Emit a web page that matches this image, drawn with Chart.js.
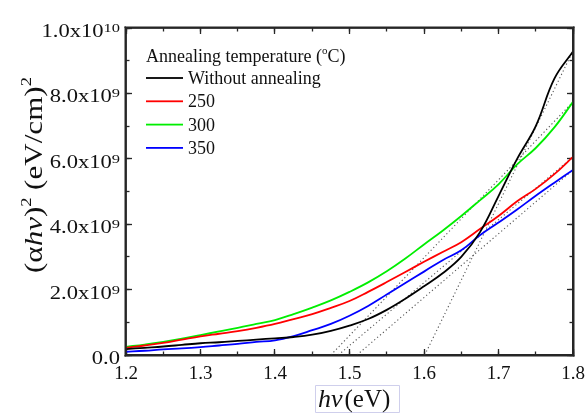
<!DOCTYPE html>
<html>
<head>
<meta charset="utf-8">
<script src="https://cdn.jsdelivr.net/npm/chart.js@4/dist/chart.umd.min.js"></script>
<style>
  html, body { margin: 0; padding: 0; background: #fff; }
  #wrap { position: relative; width: 587px; height: 414px; }
</style>
</head>
<body>
<div id="wrap"><canvas id="chart"></canvas></div>
<script>
// Tauc plot: (alpha h nu)^2 versus photon energy for films annealed at different temperatures.
const UNIT = 1e9; // values below are in units of 10^9 (eV/cm)^2

const energies = [1.200, 1.225, 1.250, 1.275, 1.300, 1.325, 1.350, 1.375, 1.400, 1.425, 1.450, 1.475, 1.500,
                  1.525, 1.550, 1.575, 1.600, 1.625, 1.650, 1.675, 1.700, 1.725, 1.750, 1.775, 1.800];

const withoutAnnealing = [0.18, 0.22, 0.26, 0.31, 0.36, 0.39, 0.43, 0.47, 0.51, 0.55, 0.62, 0.74, 0.90,
                          1.10, 1.38, 1.72, 2.10, 2.50, 3.00, 3.75, 4.86, 6.00, 7.00, 8.45, 9.28];
const annealed250 = [0.22, 0.29, 0.37, 0.47, 0.57, 0.65, 0.73, 0.83, 0.95, 1.10, 1.25, 1.44, 1.65,
                     1.93, 2.23, 2.54, 2.85, 3.15, 3.45, 3.85, 4.25, 4.70, 5.08, 5.53, 6.06];
const annealed300 = [0.25, 0.32, 0.40, 0.50, 0.61, 0.72, 0.83, 0.95, 1.07, 1.25, 1.45, 1.67, 1.93,
                     2.22, 2.56, 2.95, 3.38, 3.80, 4.25, 4.73, 5.22, 5.83, 6.33, 6.96, 7.74];
const annealed350 = [0.10, 0.13, 0.17, 0.20, 0.24, 0.29, 0.34, 0.40, 0.45, 0.58, 0.76, 0.95, 1.20,
                     1.50, 1.85, 2.20, 2.55, 2.90, 3.20, 3.66, 4.05, 4.45, 4.87, 5.27, 5.66];

const seriesLabels = ['Without annealing', '250', '300', '350'];
const seriesColors = ['#000000', '#ff0000', '#00ee00', '#0000ff'];

// Linear extrapolations of the absorption edge down to the energy axis
const fitIntercepts = [1.601, 1.485, 1.475, 1.510];
const fitTopValues = [9.30, 6.06, 7.74, 5.66];
const fitTopEnergy = 1.8;

const xRange = [1.2, 1.8];
const yRange = [0, 10];
const xTicks = [1.2, 1.3, 1.4, 1.5, 1.6, 1.7, 1.8];
const xTickLabels = ['1.2', '1.3', '1.4', '1.5', '1.6', '1.7', '1.8'];
const yTicks = [0, 2, 4, 6, 8, 10];
const yTickMantissas = ['0.0', '2.0x10', '4.0x10', '6.0x10', '8.0x10', '1.0x10'];
const yTickExponents = ['', '9', '9', '9', '9', '10'];

const legendTitle = 'Annealing temperature (';
const legendTitleSup = 'o';
const legendTitleEnd = 'C)';

const SERIF = "'Liberation Serif', 'Times New Roman', serif";
const AXIS_COLOR = '#262626';

const seriesValues = [withoutAnnealing, annealed250, annealed300, annealed350];

const datasets = [];
seriesValues.forEach((vals, i) => {
  datasets.push({
    label: seriesLabels[i],
    data: energies.map((e, k) => ({ x: e, y: vals[k] * UNIT })),
    borderColor: seriesColors[i],
    borderWidth: 1.8,
    pointRadius: 0,
    tension: 0.4,
    fill: false,
    order: 1
  });
});
fitIntercepts.forEach((e0, i) => {
  datasets.push({
    label: 'fit ' + seriesLabels[i],
    data: [{ x: e0, y: 0 }, { x: fitTopEnergy, y: fitTopValues[i] * UNIT }],
    borderColor: '#555555',
    borderWidth: 1.1,
    borderDash: [1.2, 2.6],
    pointRadius: 0,
    fill: false,
    isFit: true,
    order: 2
  });
});
// plot frame, traced around the full axis ranges
datasets.push({
  label: 'frame',
  data: [
    { x: xRange[0], y: yRange[0] * UNIT }, { x: xRange[1], y: yRange[0] * UNIT },
    { x: xRange[1], y: yRange[1] * UNIT }, { x: xRange[0], y: yRange[1] * UNIT },
    { x: xRange[0], y: yRange[0] * UNIT }
  ],
  borderColor: AXIS_COLOR,
  borderWidth: 1.6,
  borderJoinStyle: 'miter',
  pointRadius: 0,
  tension: 0,
  fill: false,
  clip: false,
  isFit: true,
  order: 0
});

// An axis that contributes an optional frame edge and inward tick marks (length < 0 points inside).
function tickAxis(position, min, max, step, tickLength, withBorder) {
  return {
    type: 'linear',
    position,
    min, max,
    ticks: { display: false, stepSize: step },
    grid: {
      drawOnChartArea: false,
      drawTicks: true,
      tickLength,
      color: AXIS_COLOR,
      tickColor: AXIS_COLOR,
      tickWidth: 1.3
    },
    border: { display: withBorder, color: AXIS_COLOR, width: 1.6 },
    afterFit(scale) {
      if (scale.isHorizontal()) scale.height = 0; else scale.width = 0;
    }
  };
}

// draws a sequence of text runs along a baseline; returns the total advance
function drawRuns(ctx, runs, x, y) {
  let cx = x;
  runs.forEach(r => {
    ctx.font = r.font;
    ctx.fillText(r.text, cx, y - (r.rise || 0));
    cx += ctx.measureText(r.text).width + (r.gap || 0);
  });
  return cx - x;
}
function runsWidth(ctx, runs) {
  let w = 0;
  runs.forEach(r => { ctx.font = r.font; w += ctx.measureText(r.text).width + (r.gap || 0); });
  return w;
}

const labelsAndLegend = {
  id: 'labelsAndLegend',
  afterDraw(chart) {
    const ctx = chart.ctx;
    const xs = chart.scales.x, ys = chart.scales.y;
    const L = xs.getPixelForValue(xRange[0]);
    const R = xs.getPixelForValue(xRange[1]);
    const T = ys.getPixelForValue(yRange[1] * UNIT);
    const B = ys.getPixelForValue(yRange[0] * UNIT);
    ctx.save();

    // outer edge of the frame, just outside the plotting area
    ctx.fillStyle = AXIS_COLOR;
    const fw = 1.5;
    ctx.fillRect(L - fw, T - fw, R - L + 2 * fw, fw);
    ctx.fillRect(L - fw, B, R - L + 2 * fw, fw);
    ctx.fillRect(L - fw, T - fw, fw, B - T + 2 * fw);
    ctx.fillRect(R, T - fw, fw, B - T + 2 * fw);

    ctx.fillStyle = '#111';
    ctx.textBaseline = 'alphabetic';

    // x tick labels
    ctx.font = '19px ' + SERIF;
    ctx.textAlign = 'center';
    xTicks.forEach((t, i) => {
      ctx.fillText(xTickLabels[i], xs.getPixelForValue(t), B + 24);
    });

    // y tick labels: mantissa with a raised exponent, right aligned
    ctx.textAlign = 'left';
    const sx = 1.22;
    yTicks.forEach((t, i) => {
      const py = ys.getPixelForValue(t * UNIT);
      const runs = [{ text: yTickMantissas[i], font: '18.5px ' + SERIF }];
      if (yTickExponents[i]) runs.push({ text: yTickExponents[i], font: '13.5px ' + SERIF, rise: 5 });
      const w = runsWidth(ctx, runs) * sx;
      ctx.save();
      ctx.translate(L - 6 - w, py + 9);
      ctx.scale(sx, 1);
      drawRuns(ctx, runs, 0, 0);
      ctx.restore();
    });

    // y axis title, rotated
    const yTitle = [
      { text: '(\u03b1', font: '25px ' + SERIF },
      { text: 'h\u03bd', font: 'italic 25px ' + SERIF },
      { text: ')', font: '25px ' + SERIF },
      { text: '2', font: '15px ' + SERIF, rise: 11, gap: 6 },
      { text: '(eV/cm)', font: '25px ' + SERIF },
      { text: '2', font: '15px ' + SERIF, rise: 11 }
    ];
    const yTitleW = runsWidth(ctx, yTitle);
    ctx.save();
    ctx.translate(42, 273);
    ctx.rotate(-Math.PI / 2);
    ctx.scale(196 / yTitleW, 1);
    drawRuns(ctx, yTitle, 0, 0);
    ctx.restore();

    // x axis title with its thin box
    ctx.strokeStyle = '#cfcfec';
    ctx.lineWidth = 1;
    ctx.beginPath();
    ctx.rect(315.5, 385.5, 84, 27);
    ctx.stroke();
    drawRuns(ctx, [
      { text: 'h\u03bd', font: 'italic 26px ' + SERIF, gap: 2 },
      { text: '(eV)', font: '25px ' + SERIF }
    ], 318, 407);

    // legend
    drawRuns(ctx, [
      { text: legendTitle, font: '18px ' + SERIF },
      { text: legendTitleSup, font: '11px ' + SERIF, rise: 8 },
      { text: legendTitleEnd, font: '18px ' + SERIF }
    ], 146, 62);
    const rowH = 23.3;
    chart.data.datasets.filter(d => !d.isFit).forEach((d, i) => {
      const ly = 78 + i * rowH;
      ctx.fillStyle = d.borderColor;
      ctx.fillRect(146, ly - 0.9, 37, 1.8);
      ctx.font = '18px ' + SERIF;
      ctx.fillStyle = '#111';
      ctx.fillText(d.label, 188, ly + 6);
    });

    ctx.restore();
  }
};

new Chart(document.getElementById('chart'), {
  type: 'line',
  data: { datasets },
  options: {
    responsive: true,
    maintainAspectRatio: false,
    animation: false,
    layout: { padding: { left: 126, right: 14, top: 28, bottom: 59 } },
    plugins: { legend: { display: false }, tooltip: { enabled: false } },
    scales: {
      x: tickAxis('bottom', xRange[0], xRange[1], 0.1, -6, true),
      xMinor: tickAxis('bottom', xRange[0], xRange[1], 0.05, -3.5, false),
      xTop: tickAxis('top', xRange[0], xRange[1], 0.1, -6, true),
      xTopMinor: tickAxis('top', xRange[0], xRange[1], 0.05, -3.5, false),
      y: tickAxis('left', yRange[0] * UNIT, yRange[1] * UNIT, 2 * UNIT, -6, true),
      yMinor: tickAxis('left', yRange[0] * UNIT, yRange[1] * UNIT, 1 * UNIT, -3.5, false),
      yRight: tickAxis('right', yRange[0] * UNIT, yRange[1] * UNIT, 2 * UNIT, -6, true),
      yRightMinor: tickAxis('right', yRange[0] * UNIT, yRange[1] * UNIT, 1 * UNIT, -3.5, false)
    }
  },
  plugins: [labelsAndLegend]
});
</script>
</body>
</html>
